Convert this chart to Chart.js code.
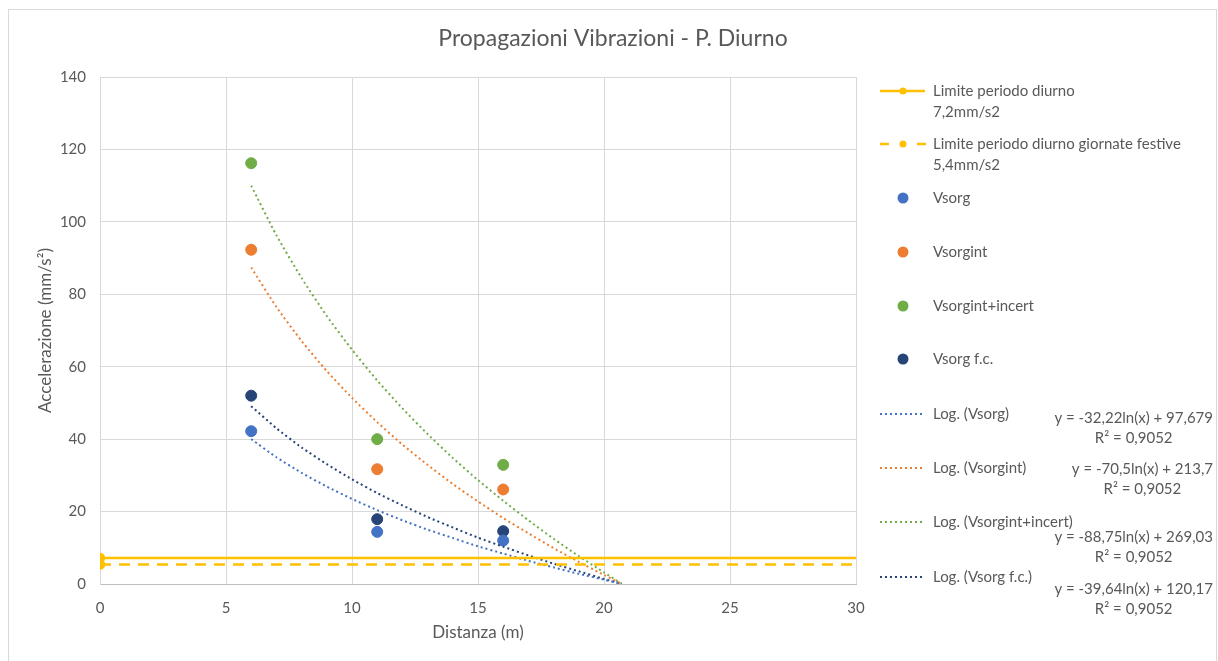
<!DOCTYPE html>
<html>
<head>
<meta charset="utf-8">
<script src="https://cdn.jsdelivr.net/npm/chart.js@4"></script>
<style>
  html, body { margin: 0; padding: 0; background: #fff; }
  #wrap { width: 1218px; height: 661px; }
</style>
</head>
<body>
<div id="wrap"><canvas id="chart" width="1218" height="661"></canvas></div>
<script>
// measured distances (m)
const distances = [6, 11, 16];

// measured accelerations (mm/s2)
const vsorg = [42.2, 14.4, 12.0];
const vsorgInt = [92.3, 31.7, 26.1];
const vsorgIntIncert = [116.2, 40.0, 32.9];
const vsorgFc = [52.0, 17.9, 14.6];

// limits
const limitX = [0, 30];
const limitDiurno = 7.2;
const limitFestive = 5.4;

// logarithmic trendlines
const trendX = [6, 7, 8, 9, 10, 11, 12, 13, 14, 15, 16, 17, 18, 19, 20, 20.7];
const trendVsorg = [40.0, 35.0, 30.7, 26.9, 23.5, 20.4, 17.6, 15.0, 12.7, 10.4, 8.4, 6.4, 4.6, 2.8, 1.2, 0.05];
const trendVsorgInt = [87.4, 76.5, 67.1, 58.8, 51.4, 44.7, 38.5, 32.9, 27.6, 22.8, 18.2, 14.0, 9.9, 6.1, 2.5, 0.08];
const trendVsorgIntIncert = [110.0, 96.3, 84.5, 74.0, 64.7, 56.2, 48.5, 41.4, 34.8, 28.7, 23.0, 17.6, 12.5, 7.7, 3.2, 0.1];
const trendVsorgFc = [49.1, 43.0, 37.7, 33.1, 28.9, 25.1, 21.7, 18.5, 15.6, 12.8, 10.3, 7.9, 5.6, 3.5, 1.4, 0.06];

const equations = [
  'y = -32,22ln(x) + 97,679',
  'y = -70,5ln(x) + 213,7',
  'y = -88,75ln(x) + 269,03',
  'y = -39,64ln(x) + 120,17'
];
const rSquared = 'R² = 0,9052';

const YELLOW = '#FFC000';
const BLUE = '#4472C4';
const ORANGE = '#ED7D31';
const GREEN = '#70AD47';
const NAVY = '#264478';
const TEXT = '#595959';
const GRID = '#d9d9d9';
const FONT = 'Lato, "Open Sans", sans-serif';

const toPoints = (xs, ys) => xs.map((x, i) => ({ x: x, y: ys[i] }));

function scatterSet(label, values, color) {
  return {
    label: label,
    data: toPoints(distances, values),
    showLine: false,
    pointRadius: 5.5,
    pointHoverRadius: 5.5,
    pointBackgroundColor: color,
    pointBorderColor: color,
    borderColor: color,
    backgroundColor: color
  };
}

function trendSet(label, values, color) {
  return {
    label: label,
    data: toPoints(trendX, values),
    showLine: true,
    borderColor: color,
    borderWidth: 2,
    borderDash: [2, 3],
    pointRadius: 0,
    tension: 0.2,
    fill: false
  };
}

// legend + title + frame drawn next to the plot
const decorPlugin = {
  id: 'decor',
  beforeDraw(chart) {
    const ctx = chart.ctx;
    ctx.save();
    ctx.fillStyle = '#fff';
    ctx.fillRect(0, 0, chart.width, chart.height);
    ctx.strokeStyle = GRID;
    ctx.lineWidth = 1;
    ctx.strokeRect(8.5, 9.5, 1208, 700);
    ctx.restore();
  },
  afterDraw(chart) {
    const ctx = chart.ctx;
    ctx.save();

    // title
    ctx.fillStyle = TEXT;
    ctx.font = '23px ' + FONT;
    ctx.textAlign = 'center';
    ctx.textBaseline = 'middle';
    ctx.fillText('Propagazioni Vibrazioni - P. Diurno', 613, 39);

    ctx.font = '15px ' + FONT;
    ctx.textAlign = 'left';
    const tx = 933;

    // limit lines
    ctx.strokeStyle = YELLOW;
    ctx.fillStyle = YELLOW;
    ctx.lineWidth = 2.5;
    ctx.beginPath(); ctx.moveTo(880, 91); ctx.lineTo(925, 91); ctx.stroke();
    ctx.beginPath(); ctx.arc(903, 91, 3.5, 0, Math.PI * 2); ctx.fill();
    ctx.beginPath(); ctx.moveTo(880, 144); ctx.lineTo(889, 144); ctx.moveTo(917, 144); ctx.lineTo(926, 144); ctx.stroke();
    ctx.beginPath(); ctx.arc(903, 144, 3.5, 0, Math.PI * 2); ctx.fill();

    ctx.fillStyle = TEXT;
    ctx.fillText('Limite periodo diurno', tx, 91);
    ctx.fillText('7,2mm/s2', tx, 112);
    ctx.fillText('Limite periodo diurno giornate festive', tx, 144);
    ctx.fillText('5,4mm/s2', tx, 165);

    // scatter markers
    const markers = [
      ['Vsorg', BLUE, 198],
      ['Vsorgint', ORANGE, 252],
      ['Vsorgint+incert', GREEN, 306],
      ['Vsorg f.c.', NAVY, 359]
    ];
    markers.forEach(m => {
      ctx.fillStyle = m[1];
      ctx.beginPath(); ctx.arc(903, m[2], 5.5, 0, Math.PI * 2); ctx.fill();
      ctx.fillStyle = TEXT;
      ctx.fillText(m[0], tx, m[2]);
    });

    // trendlines
    const trends = [
      ['Log. (Vsorg)', BLUE, 414, 418],
      ['Log. (Vsorgint)', ORANGE, 468, 469],
      ['Log. (Vsorgint+incert)', GREEN, 522, 537],
      ['Log. (Vsorg f.c.)', NAVY, 577, 589]
    ];
    trends.forEach((t, i) => {
      ctx.strokeStyle = t[1];
      ctx.lineWidth = 2;
      ctx.setLineDash([2, 3]);
      ctx.beginPath(); ctx.moveTo(880, t[2]); ctx.lineTo(924, t[2]); ctx.stroke();
      ctx.setLineDash([]);
      ctx.fillStyle = TEXT;
      ctx.textAlign = 'left';
      ctx.fillText(t[0], tx, t[2]);
      const w = ctx.measureText(equations[i]).width;
      const cx = 1213 - w / 2;
      ctx.textAlign = 'center';
      ctx.fillText(equations[i], cx, t[3]);
      ctx.fillText(rSquared, cx, t[3] + 20);
    });

    ctx.restore();
  }
};

const ctx = document.getElementById('chart').getContext('2d');
const chart = new Chart(ctx, {
  type: 'scatter',
  data: {
    datasets: [
      {
        label: 'Limite periodo diurno 7,2mm/s2',
        data: toPoints(limitX, [limitDiurno, limitDiurno]),
        showLine: true,
        borderColor: YELLOW,
        backgroundColor: YELLOW,
        borderWidth: 2.5,
        pointRadius: [4, 0],
        pointBackgroundColor: YELLOW,
        pointBorderColor: YELLOW
      },
      {
        label: 'Limite periodo diurno giornate festive 5,4mm/s2',
        data: toPoints(limitX, [limitFestive, limitFestive]),
        showLine: true,
        borderColor: YELLOW,
        backgroundColor: YELLOW,
        borderWidth: 2.5,
        borderDash: [11, 8],
        pointRadius: [4, 0],
        pointBackgroundColor: YELLOW,
        pointBorderColor: YELLOW
      },
      trendSet('Log. (Vsorg)', trendVsorg, BLUE),
      trendSet('Log. (Vsorgint)', trendVsorgInt, ORANGE),
      trendSet('Log. (Vsorgint+incert)', trendVsorgIntIncert, GREEN),
      trendSet('Log. (Vsorg f.c.)', trendVsorgFc, NAVY),
      scatterSet('Vsorg', vsorg, BLUE),
      scatterSet('Vsorgint', vsorgInt, ORANGE),
      scatterSet('Vsorgint+incert', vsorgIntIncert, GREEN),
      scatterSet('Vsorg f.c.', vsorgFc, NAVY)
    ]
  },
  options: {
    responsive: false,
    animation: false,
    layout: {
      padding: { top: 77, right: 362, left: 0, bottom: 0 }
    },
    scales: {
      x: {
        type: 'linear',
        min: 0,
        max: 30,
        afterFit(scale) { scale.height = 77; },
        ticks: {
          stepSize: 5,
          color: TEXT,
          padding: 15,
          font: { family: FONT, size: 15 }
        },
        grid: { color: GRID, drawTicks: false },
        border: { color: '#bfbfbf', width: 1 },
        title: {
          display: true,
          text: 'Distanza (m)',
          color: TEXT,
          font: { family: FONT, size: 17 },
          padding: { top: 0, bottom: 18 }
        }
      },
      y: {
        min: 0,
        max: 140,
        afterFit(scale) { scale.width = 100; },
        ticks: {
          stepSize: 20,
          color: TEXT,
          padding: 14,
          font: { family: FONT, size: 15 }
        },
        grid: { color: GRID, drawTicks: false },
        border: { color: GRID, width: 1 },
        title: {
          display: true,
          text: 'Accelerazione (mm/s²)',
          color: TEXT,
          font: { family: FONT, size: 17 },
          padding: { top: 35, bottom: 0 }
        }
      }
    },
    plugins: {
      legend: { display: false },
      title: { display: false },
      tooltip: { enabled: false }
    }
  },
  plugins: [decorPlugin]
});
</script>
</body>
</html>
